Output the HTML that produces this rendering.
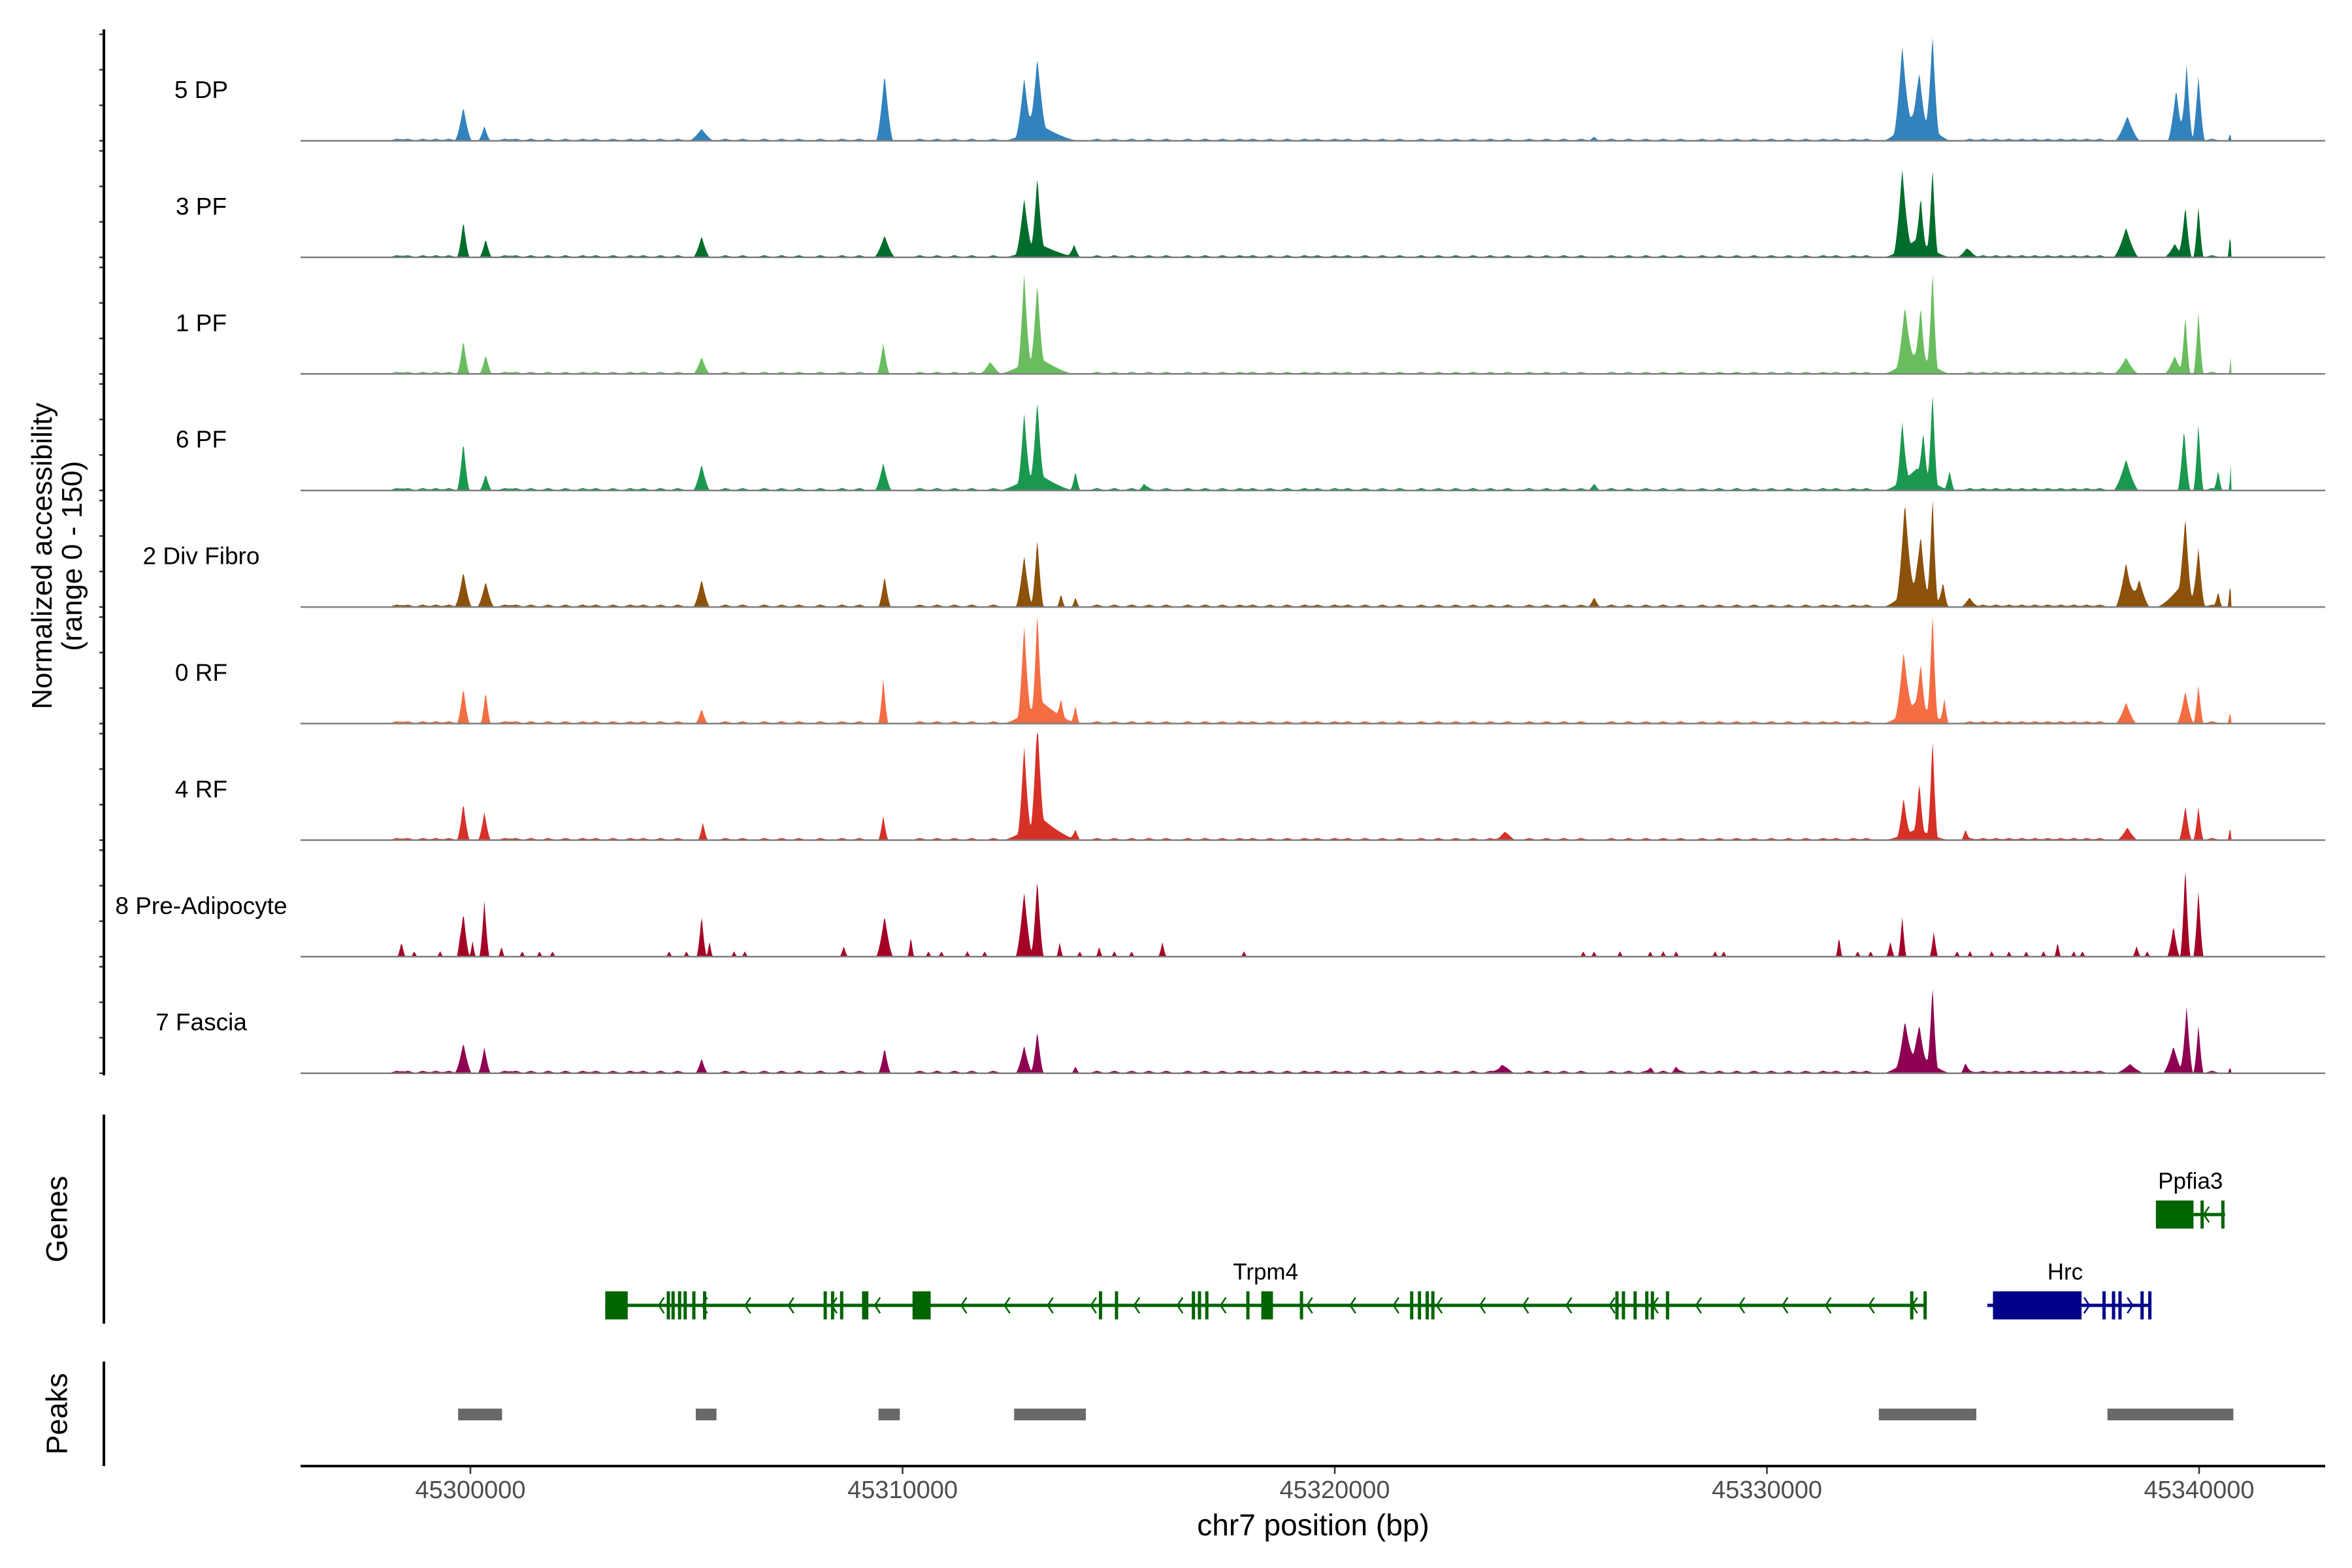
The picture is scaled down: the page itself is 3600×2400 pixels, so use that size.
<!DOCTYPE html>
<html><head><meta charset="utf-8"><style>
html,body{margin:0;padding:0;background:#fff}
svg{display:block}
text{font-family:"Liberation Sans",Arial,sans-serif}
</style></head>
<body>
<svg id="chart" xmlns="http://www.w3.org/2000/svg" width="3600" height="2400" viewBox="0 0 3600 2400">
<rect x="0" y="0" width="3600" height="2400" fill="#fff"/>
<g id="tracks"></g>
<g id="genes"></g>
<g id="peaks"></g>
<g id="axes"></g>
</svg>
<script>
// ---- data (positions in kb relative to 45,300,000) ----
const trackNames = ["5 DP","3 PF","1 PF","6 PF","2 Div Fibro","0 RF","4 RF","8 Pre-Adipocyte","7 Fascia"];
const trackColors = ["#3182bd","#006d2c","#6abd5f","#1b9850","#8c510a","#f46d43","#d73027","#a50026","#8e0152"];
const xTicks = [45300000,45310000,45320000,45330000,45340000];
const xTickLabels = ["45300000","45310000","45320000","45330000","45340000"];

const dpPos = [-0.163,0.324,5.35,9.584,12.813,13.118,13.2,33.131,33.527,33.832,33.47,38.34,39.47,39.711,39.985,40.716,26.0];
const dpVal = [48,21,17,95,80,99,22,116,58,134,44,35,73,109,93,11,6];
const dpWid = [0.2,0.15,0.3,0.2,0.2,0.2,0.9,0.2,0.15,0.15,0.8,0.3,0.2,0.15,0.15,0.06,0.15];

const pf3Pos = [-0.163,0.354,5.35,9.584,12.813,13.118,13.2,13.971,33.131,33.558,33.832,33.47,34.624,38.31,39.681,39.985,39.437,40.716];
const pf3Val = [51,26,30,31,76,100,18,17,114,65,118,26,11,42,73,73,19,33];
const pf3Wid = [0.15,0.15,0.2,0.25,0.2,0.15,0.9,0.15,0.2,0.12,0.12,0.8,0.25,0.3,0.15,0.12,0.25,0.06];

const pf1Pos = [-0.163,0.354,5.35,9.554,12.021,12.813,13.118,13.1,33.192,33.558,33.832,33.47,38.31,39.681,39.985,40.747,39.437];
const pf1Val = [48,27,24,44,15,130,104,26,80,71,136,31,23,84,89,38,25];
const pf1Wid = [0.15,0.15,0.2,0.15,0.25,0.15,0.15,0.9,0.2,0.12,0.12,0.8,0.3,0.12,0.12,0.06,0.25];

const pf6Pos = [-0.163,0.354,5.35,9.554,12.813,13.118,13.1,14.001,15.585,26.003,33.131,33.618,33.832,33.47,34.228,38.31,39.651,39.985,40.442,40.747];
const pf6Val = [69,23,37,39,97,103,26,27,8,10,85,61,129,31,28,44,88,96,28,59];
const pf6Wid = [0.15,0.15,0.2,0.2,0.15,0.15,0.9,0.12,0.15,0.15,0.15,0.12,0.12,0.8,0.12,0.3,0.15,0.12,0.1,0.06];

const dfPos = [-0.163,0.354,5.35,9.584,12.813,13.118,13.666,14.001,26.003,33.192,33.558,33.832,33.47,34.076,34.685,38.31,38.615,39.681,39.985,39.6,40.442,40.716];
const dfVal = [50,36,39,44,73,98,19,14,14,129,69,144,39,31,10,63,39,103,78,32,21,34];
const dfWid = [0.2,0.2,0.2,0.15,0.2,0.15,0.1,0.1,0.15,0.2,0.15,0.12,0.8,0.12,0.2,0.25,0.25,0.15,0.15,0.6,0.1,0.06];

const rf0Pos = [-0.163,0.354,5.35,9.554,12.813,13.118,13.2,13.666,14.001,33.162,33.558,33.832,33.47,34.106,38.31,39.681,39.985,40.716];
const rf0Val = [51,46,21,65,128,133,32,25,25,87,60,147,32,33,30,46,55,17];
const rf0Wid = [0.15,0.12,0.15,0.12,0.15,0.12,0.9,0.1,0.1,0.2,0.12,0.12,0.8,0.1,0.25,0.2,0.12,0.06];

const rf4Pos = [-0.163,0.324,5.381,9.554,12.813,13.118,13.2,14.001,23.932,33.162,33.527,33.832,33.47,34.594,38.34,39.681,39.985,40.716];
const rf4Val = [53,40,25,35,122,149,32,14,10,53,69,140,16,14,18,49,48,19];
const rf4Wid = [0.15,0.15,0.12,0.12,0.15,0.15,0.9,0.12,0.25,0.15,0.12,0.12,0.8,0.1,0.25,0.15,0.12,0.06];

const paPos = [-1.595,-0.163,0.324,0.05,0.72,5.35,5.533,8.64,9.584,10.193,12.813,13.118,13.636,14.55,16.012,31.669,33.131,33.862,32.857,36.726,38.554,39.407,39.681,39.985,
  -1.3,-0.7,-0.25,1.2,1.6,1.9,4.6,5.0,6.1,6.35,10.6,10.9,11.5,11.9,14.1,14.9,15.3,17.9,25.75,26.0,26.6,27.3,27.6,27.9,28.8,29.0,32.1,32.4,34.4,34.7,35.2,35.6,36.0,36.4,37.1,37.3,38.8];
const paVal = [21,63,80,22,15,59,22,15,58,29,92,111,21,15,21,29,58,36,22,21,15,44,130,95,
  8,8,8,8,8,8,8,8,8,8,8,8,8,8,8,8,8,8,8,8,8,8,8,8,8,8,8,8,8,8,8,8,8,8,8,8,8];
const paWid = [0.1,0.15,0.12,0.08,0.08,0.12,0.08,0.1,0.2,0.08,0.2,0.15,0.08,0.08,0.1,0.08,0.1,0.1,0.1,0.08,0.1,0.15,0.12,0.12,
  0.08,0.08,0.08,0.08,0.08,0.08,0.08,0.08,0.08,0.08,0.08,0.08,0.08,0.08,0.08,0.08,0.08,0.08,0.08,0.08,0.08,0.08,0.08,0.08,0.08,0.08,0.08,0.08,0.08,0.08,0.08,0.08,0.08,0.08,0.08,0.08,0.08];

const faPos = [-0.163,0.324,5.35,9.584,12.813,13.118,14.001,23.871,33.192,33.527,33.832,33.47,34.594,38.401,39.407,39.711,39.985,40.716,27.313,27.892];
const faVal = [43,37,21,36,39,60,10,11,58,41,113,31,13,13,38,95,69,9,7,8];
const faWid = [0.2,0.15,0.15,0.15,0.2,0.15,0.1,0.25,0.2,0.15,0.12,0.8,0.12,0.35,0.25,0.15,0.12,0.06,0.12,0.12];

const bgPos = [-1.7,-1.45,-1.1,-0.8,-0.5,0.8,1.05,1.4,1.8,2.2,2.6,2.9,3.3,3.7,4.0,4.4,4.8,5.9,6.3,6.8,7.2,7.6,8.1,8.6,9.0,10.4,10.8,11.2,11.6,12.1,14.5,14.9,15.3,15.7,16.1,16.6,17.0,17.4,17.8,18.1,18.5,18.9,19.3,19.6,20.0,20.3,20.7,21.1,21.5,22.0,22.4,22.8,23.2,23.6,24.0,24.5,24.9,25.3,25.7,26.4,26.8,27.2,27.6,28.0,28.5,28.9,29.3,29.7,30.1,30.5,30.9,31.3,31.6,32.0,32.3,34.7,35.0,35.3,35.6,35.9,36.2,36.5,36.8,37.1,37.4,37.7,40.3];
const bgLevel = [3,3,3,3.5,3.5,3.5,3,0,3.5];
const dataStartKb = -1.9, dataEndKb = 40.75;

const trackPos = [dpPos,pf3Pos,pf1Pos,pf6Pos,dfPos,rf0Pos,rf4Pos,paPos,faPos];
const trackVal = [dpVal,pf3Val,pf1Val,pf6Val,dfVal,rf0Val,rf4Val,paVal,faVal];
const trackWid = [dpWid,pf3Wid,pf1Wid,pf6Wid,dfWid,rf0Wid,rf4Wid,paWid,faWid];

const trpm4Blocks = [[3.12,3.64],[10.23,10.65],[18.3,18.57]];
const trpm4Thin = [4.58,4.69,4.84,4.97,5.17,5.42,8.21,8.38,8.59,9.1,9.17,14.58,14.95,16.73,16.87,17.04,17.99,19.23,21.78,21.96,22.14,22.27,26.53,26.68,26.95,27.22,27.35,27.7,33.35,33.66];
const trpm4Span = [3.12,33.66];
const hrcBlocks = [[35.23,37.28]];
const hrcThin = [37.8,38.02,38.17,38.68,38.86];
const hrcSpan = [35.1,38.86];
const ppfBlocks = [[39.0,39.87]];
const ppfThin = [40.07,40.55];
const ppfSpan = [39.87,40.6];

const peakStart = [-0.284,5.215,9.443,12.581,32.589,37.878];
const peakEnd   = [0.732,5.693,9.936,14.240,34.845,40.792];

// ---- scales ----
const NS = "http://www.w3.org/2000/svg";
const x = kb => 720 + kb*66.15;
const xbp = bp => x((bp-45300000)/1000);
const base0 = 215.5, step = 178.4, trackH = 163, yMax = 150;
const yv = (v, base) => base - Math.min(v,yMax)/yMax*trackH;
function mk(tag, attrs, parent){ const e=document.createElementNS(NS,tag); for(const k in attrs) e.setAttribute(k,attrs[k]); parent.appendChild(e); return e; }

const gT = document.getElementById('tracks');
const gA = document.getElementById('axes');
const gG = document.getElementById('genes');
const gP = document.getElementById('peaks');

// ---- coverage tracks ----
trackNames.forEach((name,i)=>{
  const base = base0 + i*step;
  const g = mk('g',{},gT);
  
  
  const P = trackPos[i], V = trackVal[i], W = trackWid[i];
  let d = "M" + x(dataStartKb).toFixed(1) + "," + base;
  for (let px = x(dataStartKb); px <= x(dataEndKb); px += 1.5) {
    const kb = (px-720)/66.15;
    let v = 0;
    for (let k=0;k<P.length;k++){ const t = 1-Math.abs(kb-P[k])/W[k]; if (t>0) v += V[k]*Math.pow(t,1.5); }
    for (let k=0;k<bgPos.length;k++){ const t = 1-Math.abs(kb-bgPos[k])/0.2; if (t>0) v += bgLevel[i]*t; }
    d += " L" + px.toFixed(1) + "," + yv(v,base).toFixed(1);
  }
  d += " L" + x(dataEndKb).toFixed(1) + "," + base + " Z";
  const path = mk('path',{d:d, fill:trackColors[i], stroke:'none'}, g);
  
  
  const bl = mk('line',{x1:460,x2:3559,y1:base,y2:base,stroke:'#7f7f7f','stroke-width':2.5}, g);
  
  
  const lab = mk('text',{x:308,y:base-78,'font-size':37,'text-anchor':'middle','dominant-baseline':'central',fill:'#000'}, g);
  lab.textContent = name;
  
  
  for (let k=0;k<=3;k++){
    const ty = base - k*50/yMax*trackH;
    const tk = mk('line',{x1:152,x2:159,y1:ty,y2:ty,stroke:'#333','stroke-width':2.5}, g);
    
    
  }
});

// left axes
[[45,1646],[1706,2026],[2084,2244]].forEach((r,i)=>{
  const l = mk('line',{x1:159,x2:159,y1:r[0],y2:r[1],stroke:'#000','stroke-width':4}, gA);
  
  
});
const yt = mk('text',{transform:'translate(87,851) rotate(-90)','font-size':44,'text-anchor':'middle',fill:'#000'}, gA);


const t1 = mk('tspan',{x:0,y:-8},yt); t1.textContent = "Normalized accessibility";
const t2 = mk('tspan',{x:0,y:38},yt); t2.textContent = "(range 0 - 150)";
[["Genes",1866],["Peaks",2164]].forEach(([s,yy])=>{
  const t = mk('text',{transform:'translate(87,'+yy+') rotate(-90)','font-size':45,'text-anchor':'middle','dominant-baseline':'central',fill:'#000'}, gA);
  t.textContent = s;
  
  
});

// x axis
const xl = mk('line',{x1:460,x2:3559,y1:2244,y2:2244,stroke:'#000','stroke-width':4}, gA);


xTicks.forEach((bp,i)=>{
  const tx = xbp(bp);
  const tk = mk('line',{x1:tx,x2:tx,y1:2246,y2:2256,stroke:'#333','stroke-width':2.5}, gA);
  
  
  const tl = mk('text',{x:tx,y:2281,'font-size':38,'text-anchor':'middle','dominant-baseline':'central',fill:'#4d4d4d'}, gA);
  tl.textContent = xTickLabels[i];
  
  
});
const xt = mk('text',{x:2010,y:2334,'font-size':46,'text-anchor':'middle','dominant-baseline':'central',fill:'#000'}, gA);
xt.textContent = "chr7 position (bp)";



// ---- genes ----
function drawGene(name, blocks, thin, span, yc, h, color, dir, labelKb){
  const g = mk('g',{},gG);
  
  
  mk('line',{x1:x(span[0]),x2:x(span[1]),y1:yc,y2:yc,stroke:color,'stroke-width':5}, g);
  for (let kb = span[0]+0.3; kb < span[1]-0.1; kb += 1.0) {
    const cx = x(kb), s = dir<0 ? 1 : -1;
    mk('polyline',{points:(cx+s*4)+","+(yc-12)+" "+(cx-s*4)+","+yc+" "+(cx+s*4)+","+(yc+12),fill:'none',stroke:color,'stroke-width':2.5}, g);
  }
  blocks.forEach(b=> mk('rect',{x:x(b[0]),y:yc-h/2,width:x(b[1])-x(b[0]),height:h,fill:color}, g));
  thin.forEach(k=> mk('rect',{x:x(k)-2.5,y:yc-h/2,width:5,height:h,fill:color}, g));
  const t = mk('text',{x:x(labelKb),y:yc-51,'font-size':35,'text-anchor':'middle','dominant-baseline':'central',fill:'#000'}, g);
  t.textContent = name;
  
  
}
drawGene("Trpm4", trpm4Blocks, trpm4Thin, trpm4Span, 1998, 43, "#006400", -1, 18.4);
drawGene("Hrc", hrcBlocks, hrcThin, hrcSpan, 1998, 43, "#00008b", 1, 36.9);
drawGene("Ppfia3", ppfBlocks, ppfThin, ppfSpan, 1859, 43, "#006400", -1, 39.8);

// ---- peaks ----
peakStart.forEach((s,i)=>{
  const r = mk('rect',{x:x(s),y:2156,width:x(peakEnd[i])-x(s),height:18,fill:'#696969'}, gP);
  
  
});
</script>
</body></html>
